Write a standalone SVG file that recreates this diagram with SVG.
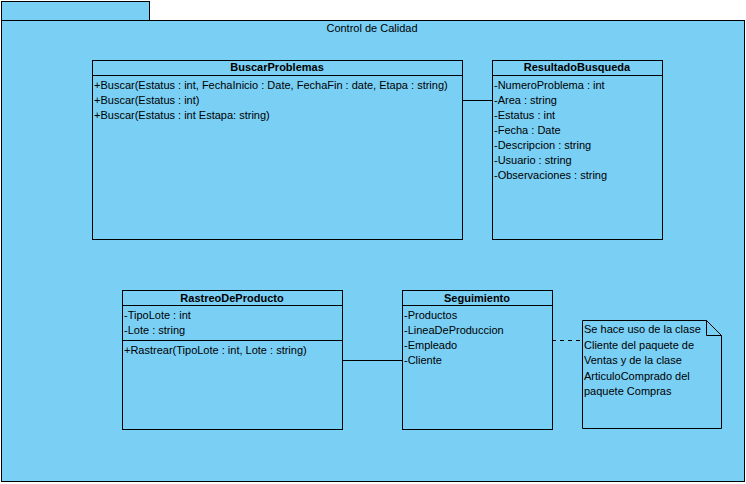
<svg xmlns="http://www.w3.org/2000/svg" width="746" height="484" viewBox="0 0 746 484">
<style>
.pkg{fill:#7ACFF5;stroke:#000;stroke-width:1}
.cls{fill:#7ACFF5;stroke:#000;stroke-width:1}
.ln{stroke:#000;stroke-width:1;fill:none}
.dash{stroke:#000;stroke-width:1;fill:none;stroke-dasharray:4,4}
text{font-family:"Liberation Sans",Arial,sans-serif;font-size:11px;fill:#000}
.t{font-weight:bold;text-anchor:middle}
.c{text-anchor:middle}
</style>
<rect width="746" height="484" fill="#fff"/>
<g id="package-ControlDeCalidad">
<rect class="pkg" x="1.5" y="1.5" width="148" height="19"/>
<rect class="pkg" x="1.5" y="20.5" width="743" height="461"/>
<text class="c" x="372" y="32">Control de Calidad</text>
</g>
<g id="connectors">
<line class="ln" x1="462" y1="100.5" x2="492" y2="100.5"/>
<line class="ln" x1="342" y1="360.5" x2="402" y2="360.5"/>
<line class="dash" x1="552" y1="340.5" x2="582" y2="340.5"/>
</g>
<g id="BuscarProblemas">
<rect class="cls" x="92.5" y="60.5" width="370" height="179"/>
<line class="ln" x1="92.5" y1="75.5" x2="462.5" y2="75.5"/>
<text class="t" x="277" y="71">BuscarProblemas</text>
<text x="94" y="89">+Buscar(Estatus : int, FechaInicio : Date, FechaFin : date, Etapa : string)</text>
<text x="94" y="104">+Buscar(Estatus : int)</text>
<text x="94" y="119">+Buscar(Estatus : int Estapa: string)</text>
</g>
<g id="ResultadoBusqueda">
<rect class="cls" x="492.5" y="60.5" width="170" height="179"/>
<line class="ln" x1="492.5" y1="75.5" x2="662.5" y2="75.5"/>
<text class="t" x="577" y="71">ResultadoBusqueda</text>
<text x="494" y="89">-NumeroProblema : int</text>
<text x="494" y="104">-Area : string</text>
<text x="494" y="119">-Estatus : int</text>
<text x="494" y="134">-Fecha : Date</text>
<text x="494" y="149">-Descripcion : string</text>
<text x="494" y="164">-Usuario : string</text>
<text x="494" y="179">-Observaciones : string</text>
</g>
<g id="RastreoDeProducto">
<rect class="cls" x="122.5" y="290.5" width="220" height="139"/>
<line class="ln" x1="122.5" y1="305.5" x2="342.5" y2="305.5"/>
<line class="ln" x1="122.5" y1="340.5" x2="342.5" y2="340.5"/>
<text class="t" x="232" y="302">RastreoDeProducto</text>
<text x="124" y="319">-TipoLote : int</text>
<text x="124" y="334">-Lote : string</text>
<text x="124" y="354">+Rastrear(TipoLote : int, Lote : string)</text>
</g>
<g id="Seguimiento">
<rect class="cls" x="402.5" y="290.5" width="150" height="139"/>
<line class="ln" x1="402.5" y1="305.5" x2="552.5" y2="305.5"/>
<text class="t" x="477" y="302">Seguimiento</text>
<text x="404" y="319">-Productos</text>
<text x="404" y="334">-LineaDeProduccion</text>
<text x="404" y="349">-Empleado</text>
<text x="404" y="364">-Cliente</text>
</g>
<g id="Nota">
<path class="cls" d="M582.5,320.5 H706.5 L721.5,335.5 V428.5 H582.5 Z"/>
<path class="ln" d="M706.5,320.5 V335.5 H721.5"/>
<text x="584" y="333">Se hace uso de la clase</text>
<text x="584" y="349">Cliente del paquete de</text>
<text x="584" y="364">Ventas y de la clase</text>
<text x="584" y="380">ArticuloComprado del</text>
<text x="584" y="395">paquete Compras</text>
</g>
</svg>
